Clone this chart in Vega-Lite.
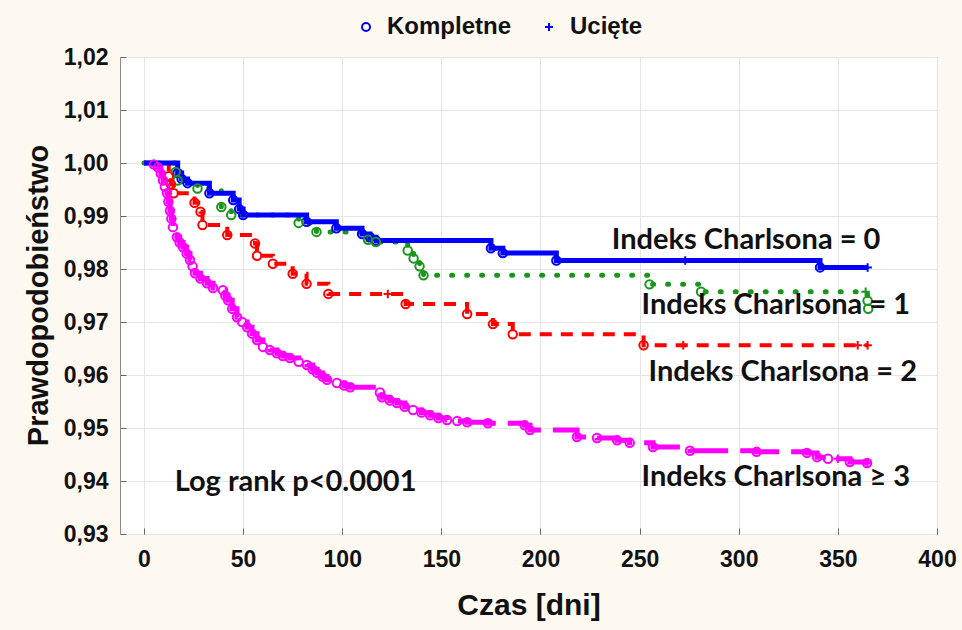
{
  "$schema": "https://vega.github.io/schema/vega-lite/v6.json",
  "width": 817,
  "height": 477,
  "autosize": {"type": "none"},
  "padding": {"left": 120, "top": 57, "right": 25, "bottom": 96},
  "background": "#fdf8f0",
  "config": {
    "view": {"fill": "white", "stroke": "#8a8a8a", "strokeWidth": 1},
    "axis": {"labelFont": "Liberation Sans", "titleFont": "Liberation Sans", "labelFontWeight": "bold", "titleFontWeight": "bold", "labelColor": "#111111", "titleColor": "#111111", "gridColor": "#e4e4e4", "gridWidth": 1, "domain": false, "ticks": true, "tickSize": -6, "tickColor": "#666666"}
  },
  "datasets": {
    "km": [
      {"g": "0", "t": 0, "s": 1.0, "k": "start"},
      {"g": "0", "t": 17, "s": 0.9981, "k": "Kompletne"},
      {"g": "0", "t": 19, "s": 0.997, "k": "Kompletne"},
      {"g": "0", "t": 22, "s": 0.9962, "k": "Kompletne"},
      {"g": "0", "t": 33, "s": 0.9943, "k": "Kompletne"},
      {"g": "0", "t": 45, "s": 0.993, "k": "Kompletne"},
      {"g": "0", "t": 48, "s": 0.9913, "k": "Kompletne"},
      {"g": "0", "t": 50, "s": 0.9902, "k": "Kompletne"},
      {"g": "0", "t": 82, "s": 0.9889, "k": "Kompletne"},
      {"g": "0", "t": 97, "s": 0.9877, "k": "Kompletne"},
      {"g": "0", "t": 110, "s": 0.9866, "k": "Kompletne"},
      {"g": "0", "t": 114, "s": 0.986, "k": "Kompletne"},
      {"g": "0", "t": 117, "s": 0.9854, "k": "Kompletne"},
      {"g": "0", "t": 175, "s": 0.9839, "k": "Kompletne"},
      {"g": "0", "t": 181, "s": 0.983, "k": "Kompletne"},
      {"g": "0", "t": 208, "s": 0.9816, "k": "Kompletne"},
      {"g": "0", "t": 273, "s": 0.9816, "k": "Ucięte"},
      {"g": "0", "t": 341, "s": 0.9803, "k": "Kompletne"},
      {"g": "0", "t": 365, "s": 0.9803, "k": "Ucięte"},

      {"g": "1", "t": 0, "s": 1.0, "k": "start"},
      {"g": "1", "t": 16, "s": 0.9983, "k": "Kompletne"},
      {"g": "1", "t": 17, "s": 0.9967, "k": "Kompletne"},
      {"g": "1", "t": 27, "s": 0.9952, "k": "Kompletne"},
      {"g": "1", "t": 39, "s": 0.9917, "k": "Kompletne"},
      {"g": "1", "t": 44, "s": 0.9902, "k": "Kompletne"},
      {"g": "1", "t": 78, "s": 0.9887, "k": "Kompletne"},
      {"g": "1", "t": 87, "s": 0.987, "k": "Kompletne"},
      {"g": "1", "t": 113, "s": 0.9855, "k": "Kompletne"},
      {"g": "1", "t": 117, "s": 0.9851, "k": "Kompletne"},
      {"g": "1", "t": 133, "s": 0.9835, "k": "Kompletne"},
      {"g": "1", "t": 136, "s": 0.982, "k": "Kompletne"},
      {"g": "1", "t": 139, "s": 0.9805, "k": "Kompletne"},
      {"g": "1", "t": 141, "s": 0.9788, "k": "Kompletne"},
      {"g": "1", "t": 255, "s": 0.9771, "k": "Kompletne"},
      {"g": "1", "t": 281, "s": 0.9757, "k": "Kompletne"},
      {"g": "1", "t": 364, "s": 0.9757, "k": "Ucięte"},
      {"g": "1", "t": 365, "s": 0.974, "k": "Kompletne"},
      {"g": "1", "t": 365.3, "s": 0.9725, "k": "Kompletne"},

      {"g": "2", "t": 0, "s": 1.0, "k": "start"},
      {"g": "2", "t": 12.5, "s": 0.9975, "k": "Kompletne"},
      {"g": "2", "t": 13.5, "s": 0.996, "k": "Kompletne"},
      {"g": "2", "t": 15, "s": 0.9943, "k": "Kompletne"},
      {"g": "2", "t": 25.5, "s": 0.9925, "k": "Kompletne"},
      {"g": "2", "t": 28.5, "s": 0.9908, "k": "Kompletne"},
      {"g": "2", "t": 29.5, "s": 0.9883, "k": "Kompletne"},
      {"g": "2", "t": 42, "s": 0.9864, "k": "Kompletne"},
      {"g": "2", "t": 56, "s": 0.9848, "k": "Kompletne"},
      {"g": "2", "t": 57, "s": 0.9825, "k": "Kompletne"},
      {"g": "2", "t": 65, "s": 0.981, "k": "Kompletne"},
      {"g": "2", "t": 75, "s": 0.9791, "k": "Kompletne"},
      {"g": "2", "t": 82, "s": 0.9772, "k": "Kompletne"},
      {"g": "2", "t": 93, "s": 0.9753, "k": "Kompletne"},
      {"g": "2", "t": 123, "s": 0.9753, "k": "Ucięte"},
      {"g": "2", "t": 132, "s": 0.9734, "k": "Kompletne"},
      {"g": "2", "t": 163, "s": 0.9715, "k": "Kompletne"},
      {"g": "2", "t": 176, "s": 0.9696, "k": "Kompletne"},
      {"g": "2", "t": 186, "s": 0.9677, "k": "Kompletne"},
      {"g": "2", "t": 252, "s": 0.9656, "k": "Kompletne"},
      {"g": "2", "t": 272, "s": 0.9656, "k": "Ucięte"},
      {"g": "2", "t": 360, "s": 0.9656, "k": "Ucięte"},
      {"g": "2", "t": 365, "s": 0.9656, "k": "Ucięte"},

      {"g": "3", "t": 0, "s": 1.0, "k": "start"},
      {"g": "3", "t": 5, "s": 0.9997, "k": "Kompletne"},
      {"g": "3", "t": 7, "s": 0.9992, "k": "Kompletne"},
      {"g": "3", "t": 8.5, "s": 0.998, "k": "Kompletne"},
      {"g": "3", "t": 9.6, "s": 0.9967, "k": "Kompletne"},
      {"g": "3", "t": 10.5, "s": 0.9955, "k": "Kompletne"},
      {"g": "3", "t": 11.6, "s": 0.9943, "k": "Kompletne"},
      {"g": "3", "t": 12.3, "s": 0.9927, "k": "Kompletne"},
      {"g": "3", "t": 13.1, "s": 0.991, "k": "Kompletne"},
      {"g": "3", "t": 13.8, "s": 0.9895, "k": "Kompletne"},
      {"g": "3", "t": 14.6, "s": 0.9879, "k": "Kompletne"},
      {"g": "3", "t": 16.6, "s": 0.986, "k": "Kompletne"},
      {"g": "3", "t": 18, "s": 0.985, "k": "Kompletne"},
      {"g": "3", "t": 19.7, "s": 0.9841, "k": "Kompletne"},
      {"g": "3", "t": 21.5, "s": 0.9829, "k": "Kompletne"},
      {"g": "3", "t": 23.2, "s": 0.9817, "k": "Kompletne"},
      {"g": "3", "t": 24.5, "s": 0.9805, "k": "Kompletne"},
      {"g": "3", "t": 25.7, "s": 0.9792, "k": "Kompletne"},
      {"g": "3", "t": 28.5, "s": 0.9782, "k": "Kompletne"},
      {"g": "3", "t": 31.8, "s": 0.9773, "k": "Kompletne"},
      {"g": "3", "t": 34.8, "s": 0.9764, "k": "Kompletne"},
      {"g": "3", "t": 39.8, "s": 0.976, "k": "Kompletne"},
      {"g": "3", "t": 41, "s": 0.975, "k": "Kompletne"},
      {"g": "3", "t": 42.4, "s": 0.9741, "k": "Kompletne"},
      {"g": "3", "t": 44.5, "s": 0.9725, "k": "Kompletne"},
      {"g": "3", "t": 46.9, "s": 0.9709, "k": "Kompletne"},
      {"g": "3", "t": 49.5, "s": 0.97, "k": "Kompletne"},
      {"g": "3", "t": 52, "s": 0.969, "k": "Kompletne"},
      {"g": "3", "t": 54.5, "s": 0.9678, "k": "Kompletne"},
      {"g": "3", "t": 57, "s": 0.9666, "k": "Kompletne"},
      {"g": "3", "t": 60, "s": 0.9653, "k": "Kompletne"},
      {"g": "3", "t": 63.5, "s": 0.9647, "k": "Kompletne"},
      {"g": "3", "t": 67, "s": 0.9641, "k": "Kompletne"},
      {"g": "3", "t": 70, "s": 0.9636, "k": "Kompletne"},
      {"g": "3", "t": 73.6, "s": 0.9632, "k": "Kompletne"},
      {"g": "3", "t": 78, "s": 0.9625, "k": "Kompletne"},
      {"g": "3", "t": 82.2, "s": 0.9619, "k": "Kompletne"},
      {"g": "3", "t": 85, "s": 0.9611, "k": "Kompletne"},
      {"g": "3", "t": 87.3, "s": 0.9604, "k": "Kompletne"},
      {"g": "3", "t": 90, "s": 0.9597, "k": "Kompletne"},
      {"g": "3", "t": 92.3, "s": 0.9591, "k": "Kompletne"},
      {"g": "3", "t": 97.3, "s": 0.9585, "k": "Kompletne"},
      {"g": "3", "t": 101, "s": 0.958, "k": "Kompletne"},
      {"g": "3", "t": 104, "s": 0.9577, "k": "Kompletne"},
      {"g": "3", "t": 119, "s": 0.9567, "k": "Kompletne"},
      {"g": "3", "t": 120, "s": 0.9558, "k": "Kompletne"},
      {"g": "3", "t": 124, "s": 0.9552, "k": "Kompletne"},
      {"g": "3", "t": 127.6, "s": 0.9547, "k": "Kompletne"},
      {"g": "3", "t": 131.5, "s": 0.954, "k": "Kompletne"},
      {"g": "3", "t": 135.7, "s": 0.9534, "k": "Kompletne"},
      {"g": "3", "t": 140, "s": 0.9529, "k": "Kompletne"},
      {"g": "3", "t": 144.3, "s": 0.9524, "k": "Kompletne"},
      {"g": "3", "t": 148.5, "s": 0.9519, "k": "Kompletne"},
      {"g": "3", "t": 152.8, "s": 0.9515, "k": "Kompletne"},
      {"g": "3", "t": 158, "s": 0.9513, "k": "Kompletne"},
      {"g": "3", "t": 163, "s": 0.9511, "k": "Kompletne"},
      {"g": "3", "t": 173.5, "s": 0.9509, "k": "Kompletne"},
      {"g": "3", "t": 192, "s": 0.9505, "k": "Kompletne"},
      {"g": "3", "t": 194.7, "s": 0.9496, "k": "Kompletne"},
      {"g": "3", "t": 218.4, "s": 0.9483, "k": "Kompletne"},
      {"g": "3", "t": 228.5, "s": 0.9481, "k": "Kompletne"},
      {"g": "3", "t": 238.6, "s": 0.9477, "k": "Kompletne"},
      {"g": "3", "t": 245, "s": 0.9472, "k": "Kompletne"},
      {"g": "3", "t": 256.7, "s": 0.9464, "k": "Kompletne"},
      {"g": "3", "t": 275.4, "s": 0.9457, "k": "Kompletne"},
      {"g": "3", "t": 309, "s": 0.9455, "k": "Kompletne"},
      {"g": "3", "t": 334.4, "s": 0.9453, "k": "Kompletne"},
      {"g": "3", "t": 339.5, "s": 0.9445, "k": "Kompletne"},
      {"g": "3", "t": 345, "s": 0.9442, "k": "Kompletne"},
      {"g": "3", "t": 350, "s": 0.9442, "k": "Ucięte"},
      {"g": "3", "t": 356, "s": 0.9436, "k": "Kompletne"},
      {"g": "3", "t": 364.7, "s": 0.9434, "k": "Kompletne"},
      {"g": "3", "t": 365, "s": 0.9434, "k": "Ucięte"}
    ],
    "notes": [
      {"label": "Indeks Charlsona = 0", "t": 236, "s": 0.9854},
      {"label": "Indeks Charlsona = 1", "t": 251, "s": 0.97316},
      {"label": "Indeks Charlsona = 2", "t": 254.5, "s": 0.96055},
      {"label": "Indeks Charlsona ≥ 3", "t": 251, "s": 0.94077},
      {"label": "Log rank p<0.0001", "t": 15.5, "s": 0.93983}
    ]
  },
  "encoding": {
    "x": {
      "field": "t", "type": "quantitative",
      "scale": {"domain": [-12.1, 400], "nice": false, "zero": false},
      "axis": {"title": "Czas [dni]", "values": [0, 50, 100, 150, 200, 250, 300, 350, 400], "labelFontSize": 23, "labelPadding": 20, "titleFontSize": 30, "titleY": 71, "titleBaseline": "middle", "labelFlush": false}
    },
    "y": {
      "field": "s", "type": "quantitative",
      "scale": {"domain": [0.93, 1.02], "nice": false, "zero": false},
      "axis": {"title": "Prawdopodobieństwo", "values": [0.93, 0.94, 0.95, 0.96, 0.97, 0.98, 0.99, 1.0, 1.01, 1.02], "labelExpr": "replace(format(datum.value, '.2f'), '.', ',')", "labelFontSize": 23, "labelPadding": 18, "titleFontSize": 29, "titleX": -82, "titleY": 238, "titleAngle": 270, "titleBaseline": "middle", "titleAlign": "center", "labelFlush": false}
    }
  },
  "layer": [
    {
      "data": {"name": "km"},
      "transform": [{"filter": "datum.g == '3'"}],
      "mark": {"type": "line", "interpolate": "step-after", "color": "#ff00ff", "strokeWidth": 5, "strokeDash": [40, 12]}
    },
    {
      "data": {"name": "km"},
      "transform": [{"filter": "datum.g == '2'"}],
      "mark": {"type": "line", "interpolate": "step-after", "color": "#ff0000", "strokeWidth": 4, "strokeDash": [12, 9]}
    },
    {
      "data": {"name": "km"},
      "transform": [{"filter": "datum.g == '1'"}],
      "mark": {"type": "line", "interpolate": "step-after", "color": "#1a961a", "strokeWidth": 5, "strokeDash": [1, 14], "strokeCap": "round"}
    },
    {
      "data": {"name": "km"},
      "transform": [{"filter": "datum.g == '0'"}],
      "mark": {"type": "line", "interpolate": "step-after", "color": "#0000ff", "strokeWidth": 5}
    },
    {
      "data": {"name": "km"},
      "transform": [{"filter": "datum.k == 'Kompletne' || datum.k == 'Ucięte'"}],
      "mark": {"type": "point", "filled": false, "strokeWidth": 2, "size": 72, "opacity": 1},
      "encoding": {
        "color": {"field": "g", "type": "nominal", "scale": {"domain": ["0", "1", "2", "3"], "range": ["#0000ff", "#1a961a", "#ff0000", "#ff00ff"]}, "legend": null},
        "shape": {
          "field": "k", "type": "nominal",
          "scale": {"domain": ["Kompletne", "Ucięte"], "range": ["circle", "M-1,0H1M0,-1V1"]},
          "legend": {"orient": "none", "legendX": 234, "legendY": -42, "direction": "horizontal", "title": null, "labelFont": "Liberation Sans", "labelFontWeight": "bold", "labelFontSize": 24, "labelColor": "#111111", "symbolStrokeColor": "#0000ff", "symbolFillColor": "transparent", "symbolStrokeWidth": 2, "symbolSize": 64, "labelOffset": 9, "columnPadding": 25}
        }
      }
    },
    {
      "data": {"name": "notes"},
      "mark": {"type": "text", "align": "left", "baseline": "middle", "font": "Lato", "fontWeight": "bold", "fontSize": 29, "color": "#111111"},
      "encoding": {"text": {"field": "label"}}
    }
  ]
}
